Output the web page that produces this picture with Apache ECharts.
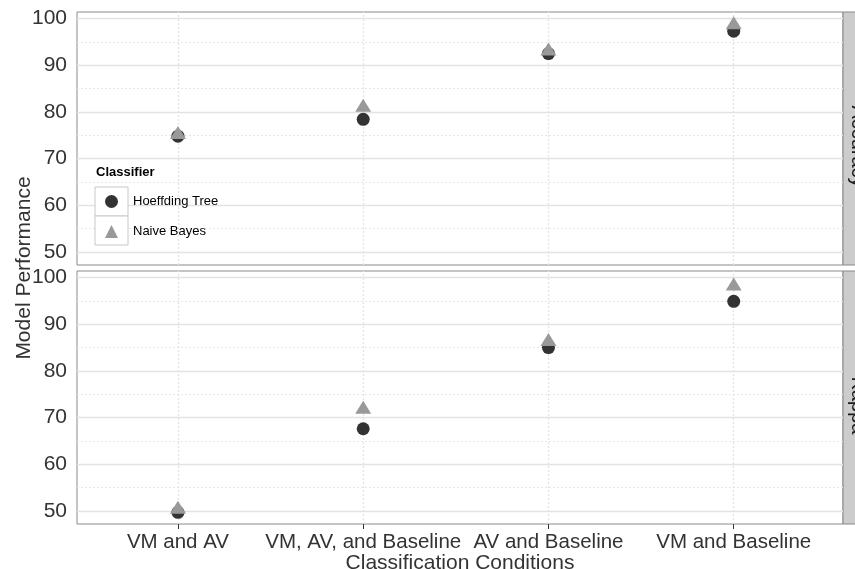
<!DOCTYPE html>
<html><head><meta charset="utf-8">
<script src="https://cdn.jsdelivr.net/npm/echarts@6/dist/echarts.min.js"></script>
<style>html,body{margin:0;padding:0;background:#fff}#c{width:855px;height:569px}</style>
</head><body><div id="c"></div>
<script>
const categories = ['VM and AV', 'VM, AV, and Baseline', 'AV and Baseline', 'VM and Baseline'];
const panels = ['Accuracy', 'Kappa'];
const accHoeffding = [74.8, 78.4, 92.5, 97.3];
const accNaive = [75.6, 81.4, 93.5, 99.1];
const kapHoeffding = [49.7, 67.6, 85.0, 94.9];
const kapNaive = [50.8, 72.2, 86.7, 98.6];
const yTicks = [50, 60, 70, 80, 90, 100];
const yMinor = [55, 65, 75, 85, 95];
const xTicks = [0, 1, 2, 3];

const FONT = 'Liberation Sans';
const chart = echarts.init(document.getElementById('c'));
const pts = arr => arr.map((v, i) => [i, v]);
const gridLeft = 77, gridRight = 12, panelH = 253;
const tops = [12, 271];

function yAxis(idx) {
  return {
    type: 'value', gridIndex: idx, min: 47.2, max: 101.4,
    axisLine: { show: false },
    axisTick: { show: true, customValues: yTicks, length: 6, lineStyle: { color: '#333' } },
    axisLabel: { customValues: yTicks, fontFamily: FONT, fontSize: 21, color: '#333', margin: 10 },
    splitLine: { show: false }
  };
}
function xAxis(idx) {
  return {
    type: 'value', gridIndex: idx, min: -0.545, max: 3.59,
    axisLine: { show: false },
    axisTick: { show: idx === 1, customValues: xTicks, length: 5, lineStyle: { color: '#333' } },
    axisLabel: { show: idx === 1, customValues: xTicks, formatter: v => categories[v] || '', fontFamily: FONT, fontSize: 20.5, color: '#333', margin: 8 },
    splitLine: { show: false }
  };
}
function gridSeries(idx) {
  return {
    type: 'scatter', xAxisIndex: idx, yAxisIndex: idx, data: [], silent: true, z: 1,
    markLine: {
      silent: true, symbol: 'none', label: { show: false }, animation: false, z: 1,
      data: [
        ...yTicks.map(v => ({ yAxis: v, lineStyle: { color: '#e3e3e3', width: 1.3, type: 'solid' } })),
        ...yMinor.map(v => ({ yAxis: v, lineStyle: { color: '#e6e6e6', width: 1, type: [2, 2] } })),
        ...xTicks.map(v => ({ xAxis: v, lineStyle: { color: '#e3e3e3', width: 1.3, type: [2, 2] } }))
      ]
    }
  };
}
const circ = { symbol: 'circle', symbolSize: 13, itemStyle: { color: '#333333', opacity: 1 } };
const tri = { symbol: 'triangle', symbolSize: [16, 13], itemStyle: { color: '#999999', opacity: 1 } };

const graphics = [];
tops.forEach((t, i) => {
  graphics.push({ type: 'rect', shape: { x: 843, y: t, width: 20, height: panelH }, style: { fill: '#cccccc', stroke: '#888', lineWidth: 1 }, z: 0 });
  graphics.push({ type: 'text', x: 858, y: t + panelH / 2 + 8, rotation: -Math.PI / 2,
    style: { text: panels[i], fontFamily: FONT, fontSize: 20, fill: '#1a1a1a', align: 'center', verticalAlign: 'middle' }, z: 1 });
});
// legend key boxes
graphics.push({ type: 'rect', shape: { x: 95, y: 187, width: 33, height: 29 }, style: { fill: '#fff', stroke: '#c8c8c8', lineWidth: 1 }, z: 5 });
graphics.push({ type: 'rect', shape: { x: 95, y: 216, width: 33, height: 29 }, style: { fill: '#fff', stroke: '#c8c8c8', lineWidth: 1 }, z: 5 });
graphics.push({ type: 'text', x: 96, y: 172, style: { text: 'Classifier', fontFamily: FONT, fontSize: 13, fontWeight: 'bold', fill: '#000', verticalAlign: 'middle' }, z: 6 });
graphics.push({ type: 'text', x: 24, y: 268, rotation: Math.PI / 2,
  style: { text: 'Model Performance', fontFamily: FONT, fontSize: 21, fill: '#333', align: 'center', verticalAlign: 'middle' } });
graphics.push({ type: 'text', x: 460, y: 563, style: { text: 'Classification Conditions', fontFamily: FONT, fontSize: 21, fill: '#333', align: 'center', verticalAlign: 'middle' } });

chart.setOption({
  animation: false,
  textStyle: { fontFamily: FONT },
  grid: tops.map(t => ({ left: gridLeft, right: gridRight, top: t, height: panelH, show: true, borderColor: '#8a8a8a', borderWidth: 1, backgroundColor: '#fff' })),
  xAxis: [xAxis(0), xAxis(1)],
  yAxis: [yAxis(0), yAxis(1)],
  legend: {
    orient: 'vertical', left: 100, top: 190, itemGap: 17, itemWidth: 13, itemHeight: 13, z: 10,
    textStyle: { fontFamily: FONT, fontSize: 13, color: '#000', padding: [0, 0, 0, 10] },
    data: [{ name: 'Hoeffding Tree', icon: 'circle', itemStyle: { color: '#333333' } }, { name: 'Naive Bayes', icon: 'triangle', itemStyle: { color: '#999999' } }]
  },
  graphic: graphics,
  series: [
    gridSeries(0), gridSeries(1),
    { name: 'Hoeffding Tree', type: 'scatter', xAxisIndex: 0, yAxisIndex: 0, data: pts(accHoeffding), z: 3, ...circ },
    { name: 'Naive Bayes', type: 'scatter', xAxisIndex: 0, yAxisIndex: 0, data: pts(accNaive), z: 4, ...tri },
    { name: 'Hoeffding Tree', type: 'scatter', xAxisIndex: 1, yAxisIndex: 1, data: pts(kapHoeffding), z: 3, ...circ },
    { name: 'Naive Bayes', type: 'scatter', xAxisIndex: 1, yAxisIndex: 1, data: pts(kapNaive), z: 4, ...tri }
  ]
});
</script></body></html>
